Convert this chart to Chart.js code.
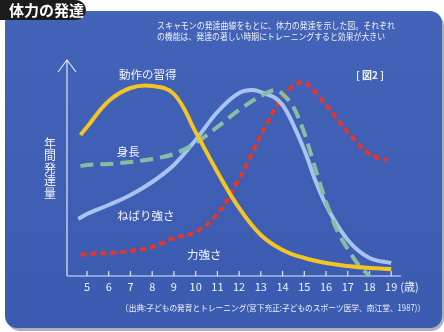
<!DOCTYPE html>
<html>
<head>
<meta charset="utf-8">
<script src="https://cdn.jsdelivr.net/npm/chart.js@4"></script>
<style>
  html, body { margin: 0; padding: 0; background: #fff; }
  canvas { display: block; }
</style>
</head>
<body>
<canvas id="chart" width="444" height="332"></canvas>
<script>
// データ（縦軸は年間発達量の相対値）
const yearTicks = [5, 6, 7, 8, 9, 10, 11, 12, 13, 14, 15, 16, 17, 18, 19];
const tickLabels = ['5', '6', '7', '8', '9', '10', '11', '12', '13', '14', '15', '16', '17', '18', '19'];
const unitLabel = '(歳)';

const motorYears = [4.7, 5, 6, 7, 8, 9, 10, 11, 12, 13, 14, 15, 16, 17, 18, 19];
const motorValues = [141, 149, 175, 188, 190, 182, 144, 104, 68, 41, 26, 18, 13, 10, 8, 7];

const heightYears = [4.7, 5, 6, 7, 8, 9, 10, 11, 12, 13, 13.7, 14, 14.5, 15, 15.5, 16, 16.5, 17, 17.5, 18];
const heightValues = [110, 111, 112, 114, 117, 122, 133, 149, 166, 180, 186, 182, 169, 143, 108, 74, 46, 27, 11, 0];

const staminaYears = [4.6, 5, 6, 7, 8, 9, 10, 11, 12, 12.6, 13, 14, 15, 15.5, 16, 17, 18, 19];
const staminaValues = [57, 62, 71, 81, 94, 111, 136, 164, 183, 186, 184, 171, 126, 96, 71, 36, 18, 13];

const strengthYears = [4.7, 5, 6, 7, 8, 9, 10, 11, 12, 13, 14, 14.9, 15.5, 16, 17, 18, 18.8];
const strengthValues = [21, 22, 23, 25, 29, 38, 44, 62, 97, 141, 179, 194, 184, 171, 144, 122, 116];

const seriesNames = ['動作の習得', '身長', 'ねばり強さ', '力強さ'];

const toPoints = (xs, ys) => xs.map((x, i) => ({ x: x, y: ys[i] }));

const FONT = '"Noto Sans CJK JP", "Noto Sans", sans-serif';

// 背景パネル・見出し・説明文
const backdrop = {
  id: 'backdrop',
  beforeDraw(chart) {
    const ctx = chart.ctx;
    ctx.save();
    ctx.fillStyle = '#ffffff';
    ctx.fillRect(0, 0, chart.width, chart.height);

    // パネルの影
    ctx.fillStyle = 'rgba(20,30,60,0.35)';
    ctx.beginPath();
    ctx.roundRect(7, 13, 437, 318, 13);
    ctx.fill();

    // パネル
    const g = ctx.createLinearGradient(0, 10, 0, 328);
    g.addColorStop(0, '#4263b7');
    g.addColorStop(1, '#3b5bb0');
    ctx.fillStyle = g;
    ctx.beginPath();
    ctx.roundRect(5, 11, 437, 317, 12);
    ctx.fill();

    // 見出しタブ
    ctx.fillStyle = '#1c1c1f';
    ctx.beginPath();
    ctx.roundRect(-10, 0, 96, 20, 10);
    ctx.fill();
    ctx.fillStyle = '#ffffff';
    ctx.font = 'bold 15px ' + FONT;
    ctx.textBaseline = 'middle';
    ctx.textAlign = 'left';
    ctx.fillText('体力の発達', 9, 10);

    // 説明文
    ctx.fillStyle = '#eef1f8';
    ctx.font = '9px ' + FONT;
    ctx.fillText('スキャモンの発達曲線をもとに、体力の発達を示した図。それぞれ', 157, 26, 238);
    ctx.fillText('の機能は、発達の著しい時期にトレーニングすると効果が大きい', 157, 37, 228);

    // 出典
    ctx.font = '8.5px ' + FONT;
    ctx.fillText('〔出典:子どもの発育とトレーニング(宮下充正:子どものスポーツ医学、南江堂、1987)〕', 121, 308, 304);

    // 図番号
    ctx.font = 'bold 10px ' + FONT;
    ctx.textAlign = 'center';
    ctx.fillText('[ 図2 ]', 370, 75);
    ctx.restore();
  }
};

// 軸（矢印・目盛り）
const axes = {
  id: 'axes',
  beforeDatasetsDraw(chart) {
    const ctx = chart.ctx;
    const xs = chart.scales.x;
    const ys = chart.scales.y;
    const x0 = xs.left;
    const y0 = ys.getPixelForValue(0);
    ctx.save();
    ctx.strokeStyle = '#dfe6f5';
    ctx.lineWidth = 1.2;
    ctx.beginPath();
    ctx.moveTo(x0, y0);
    ctx.lineTo(x0, ys.top);
    ctx.moveTo(x0 - 9, ys.top + 12);
    ctx.lineTo(x0, ys.top);
    ctx.lineTo(x0 + 9, ys.top + 12);
    ctx.moveTo(x0, y0);
    ctx.lineTo(xs.right, y0);
    yearTicks.forEach(v => {
      const px = xs.getPixelForValue(v);
      ctx.moveTo(px, y0);
      ctx.lineTo(px, y0 - 5);
    });
    ctx.stroke();

    ctx.fillStyle = '#eef1f8';
    ctx.font = '11px ' + FONT;
    ctx.textAlign = 'center';
    ctx.textBaseline = 'middle';
    yearTicks.forEach((v, i) => {
      ctx.fillText(tickLabels[i], xs.getPixelForValue(v), y0 + 11);
    });
    ctx.textAlign = 'left';
    ctx.fillText(unitLabel, xs.getPixelForValue(19) + 9, y0 + 11);

    // 縦軸タイトル（縦書き）
    ctx.font = '12px ' + FONT;
    ctx.textAlign = 'center';
    const title = '年間発達量';
    for (let i = 0; i < title.length; i++) {
      ctx.fillText(title[i], 50, 143 + i * 12.5);
    }
    ctx.restore();
  }
};

// 曲線ラベル
const curveLabels = [
  { text: seriesNames[0], x: 7.8, y: 201 },
  { text: seriesNames[1], x: 6.9, y: 124 },
  { text: seriesNames[2], x: 7.7, y: 60 },
  { text: seriesNames[3], x: 10.4, y: 21 }
];

const labels = {
  id: 'labels',
  afterDatasetsDraw(chart) {
    const ctx = chart.ctx;
    ctx.save();
    ctx.fillStyle = '#f2f4fa';
    ctx.font = '11.5px ' + FONT;
    ctx.textAlign = 'center';
    ctx.textBaseline = 'middle';
    curveLabels.forEach(l => {
      ctx.fillText(l.text, chart.scales.x.getPixelForValue(l.x), chart.scales.y.getPixelForValue(l.y));
    });
    ctx.restore();
  }
};

new Chart(document.getElementById('chart'), {
  type: 'line',
  data: {
    datasets: [
      {
        label: seriesNames[0],
        data: toPoints(motorYears, motorValues),
        borderColor: '#f2c524',
        borderWidth: 4,
        cubicInterpolationMode: 'default',
        tension: 0.4
      },
      {
        label: seriesNames[1],
        data: toPoints(heightYears, heightValues),
        borderColor: '#86bea3',
        borderWidth: 4,
        borderDash: [13, 7]
      },
      {
        label: seriesNames[2],
        data: toPoints(staminaYears, staminaValues),
        borderColor: '#a9c3f0',
        borderWidth: 4
      },
      {
        label: seriesNames[3],
        data: toPoints(strengthYears, strengthValues),
        borderColor: '#e5362c',
        borderWidth: 4,
        borderDash: [6, 4]
      }
    ]
  },
  options: {
    responsive: false,
    animation: false,
    events: [],
    layout: { padding: { left: 67, right: 43, top: 60, bottom: 56 } },
    elements: {
      point: { radius: 0 },
      line: { cubicInterpolationMode: 'monotone', fill: false, borderCapStyle: 'butt' }
    },
    datasets: { line: { clip: false } },
    scales: {
      x: { type: 'linear', min: 4.08, max: 19.45, display: false },
      y: { type: 'linear', min: 0, max: 216, display: false }
    },
    plugins: {
      legend: { display: false },
      tooltip: { enabled: false }
    }
  },
  plugins: [backdrop, axes, labels]
});
</script>
</body>
</html>
